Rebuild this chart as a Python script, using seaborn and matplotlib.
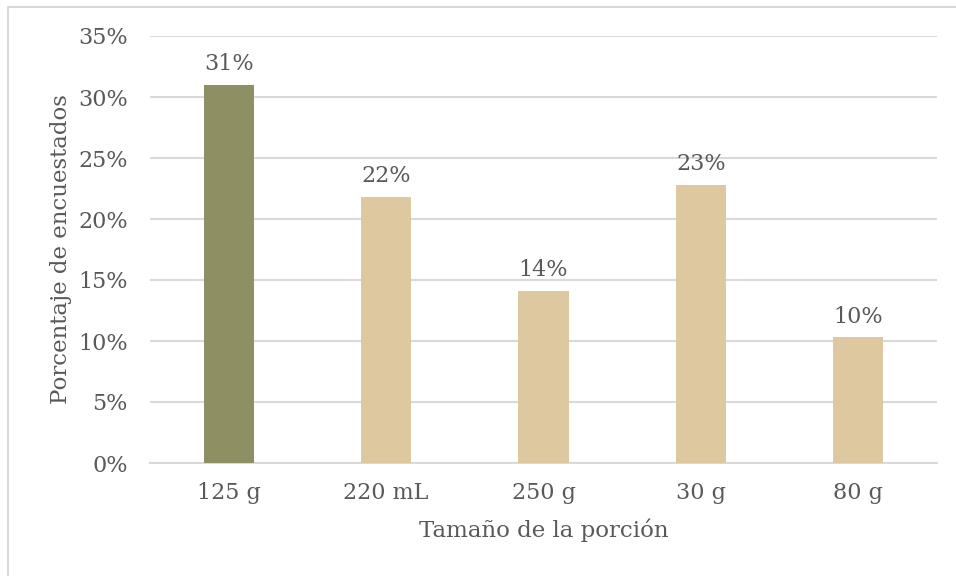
import matplotlib
matplotlib.use("Agg")
import matplotlib.pyplot as plt
from matplotlib.lines import Line2D
from matplotlib.ticker import PercentFormatter
import seaborn as sns
import pandas as pd

# data
portions = ["125 g", "220 mL", "250 g", "30 g", "80 g"]
shares = [0.310, 0.218, 0.141, 0.228, 0.103]
bar_colors = ["#8E8F62", "#DEC8A0", "#DEC8A0", "#DEC8A0", "#DEC8A0"]

TEXT = "#595959"
GRID = "#D9D9D9"

sns.set_theme(style="white")
plt.rcParams["font.family"] = ["DejaVu Serif"]

df = pd.DataFrame({"portion": portions, "share": shares})

fig = plt.figure(figsize=(9.56, 5.76), dpi=100)
ax = fig.add_axes([150 / 956, 113 / 576, 787 / 956, 427 / 576])

sns.barplot(data=df, x="portion", y="share", hue="portion", palette=bar_colors,
            width=0.318, legend=False, saturation=1, linewidth=0,
            ax=ax, zorder=3)

ax.set_ylim(0, 0.35)
ax.set_xlim(-0.5, len(portions) - 0.5)
ax.set_yticks([i * 0.05 for i in range(8)])
ax.yaxis.set_major_formatter(PercentFormatter(1.0, decimals=0))
ax.yaxis.grid(True, color=GRID, linewidth=1.5, zorder=0)
ax.set_axisbelow(True)

for side in ["top", "right", "left"]:
    ax.spines[side].set_visible(False)
ax.spines["bottom"].set_color(GRID)
ax.spines["bottom"].set_linewidth(1.5)

ax.tick_params(axis="y", length=0, pad=16, labelsize=16, labelcolor=TEXT)
ax.tick_params(axis="x", length=0, pad=14, labelsize=16, labelcolor=TEXT)

ax.set_xlabel("Tamaño de la porción", fontsize=16.5, color=TEXT, labelpad=10)
ax.set_ylabel("Porcentaje de encuestados", fontsize=16.5, color=TEXT, labelpad=4)

for cont, v in zip(ax.containers, shares):
    ax.bar_label(cont, labels=[f"{v:.0%}"], padding=7, fontsize=16, color=TEXT)

# light chart-area border (top and left edges visible in the reference)
fig.add_artist(Line2D([7.5 / 956, 7.5 / 956], [0, 1 - 6.5 / 576],
                      transform=fig.transFigure, color=GRID, linewidth=1.5))
fig.add_artist(Line2D([7.5 / 956, 1], [1 - 6.5 / 576, 1 - 6.5 / 576],
                      transform=fig.transFigure, color=GRID, linewidth=1.5))

fig.savefig("out.png", dpi=100)
